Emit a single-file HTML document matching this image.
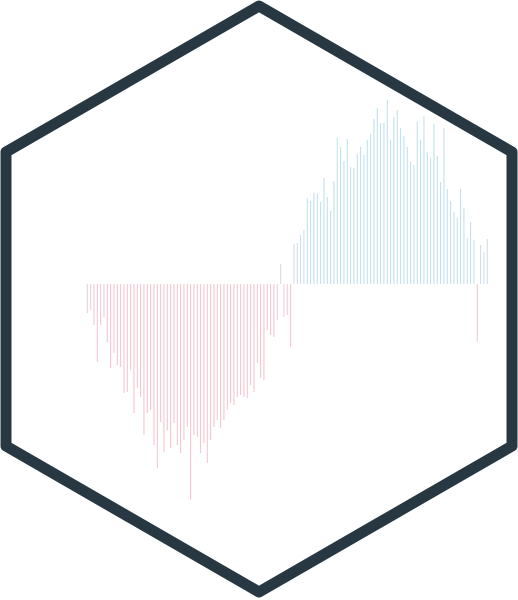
<!DOCTYPE html>
<html><head><meta charset="utf-8"><style>
html,body{margin:0;padding:0;background:#fff;}
svg{display:block;}
</style></head><body>
<svg id="chart" width="518" height="600" viewBox="0 0 518 600" xmlns="http://www.w3.org/2000/svg">
<g id="bars"></g>
<polygon points="259,6 512,152 512,446 259,592 6,446 6,152" fill="none" stroke="#283842" stroke-width="11" stroke-linejoin="round"/>
</svg>
<script>
const values = [-29,-26,-41,-78,-41,-33,-58,-84,-69,-81,-83,-109,-108,-86,-129,-104,-113,-151,-129,-126,-161,-184,-138,-168,-146,-164,-139,-161,-169,-156,-143,-216,-151,-153,-169,-159,-179,-156,-143,-136,-144,-136,-126,-119,-121,-113,-111,-113,-114,-101,-108,-79,-94,-96,-46,-51,-53,-36,20,
-33,-31,-63,40,41,49,54,86,83,91,90,82,106,87,73,103,146,137,123,145,117,116,130,137,129,144,150,165,176,161,161,184,144,167,174,156,148,137,122,119,162,144,168,132,126,160,128,102,156,95,83,72,66,95,76,46,62,44,-58,39,32,45];
const x0 = 87.3, step = 3.333, baseY = 284;
function xScale(i){ return x0 + i*step; }
function yScale(v){ return baseY - v; }
function color(v){
  let t = Math.max(0, Math.min(1, (v + 60) / 140));
  const a=[240,150,170], b=[200,190,210], c=[140,200,225];
  let r,g,bb;
  if(t<0.45){const k=t/0.45;r=a[0]+(b[0]-a[0])*k;g=a[1]+(b[1]-a[1])*k;bb=a[2]+(b[2]-a[2])*k;}
  else{const k=(t-0.45)/0.55;r=b[0]+(c[0]-b[0])*k;g=b[1]+(c[1]-b[1])*k;bb=b[2]+(c[2]-b[2])*k;}
  return `rgb(${r|0},${g|0},${bb|0})`;
}
const g = document.getElementById('bars');
values.forEach((v,i)=>{
  const l = document.createElementNS('http://www.w3.org/2000/svg','line');
  const x = xScale(i);
  l.setAttribute('x1', x); l.setAttribute('x2', x);
  l.setAttribute('y1', yScale(0)); l.setAttribute('y2', yScale(v));
  l.setAttribute('stroke', color(v));
  l.setAttribute('stroke-width', '1');
  l.setAttribute('stroke-opacity', '0.6');
  
  
  g.appendChild(l);
});
</script>
</body></html>
